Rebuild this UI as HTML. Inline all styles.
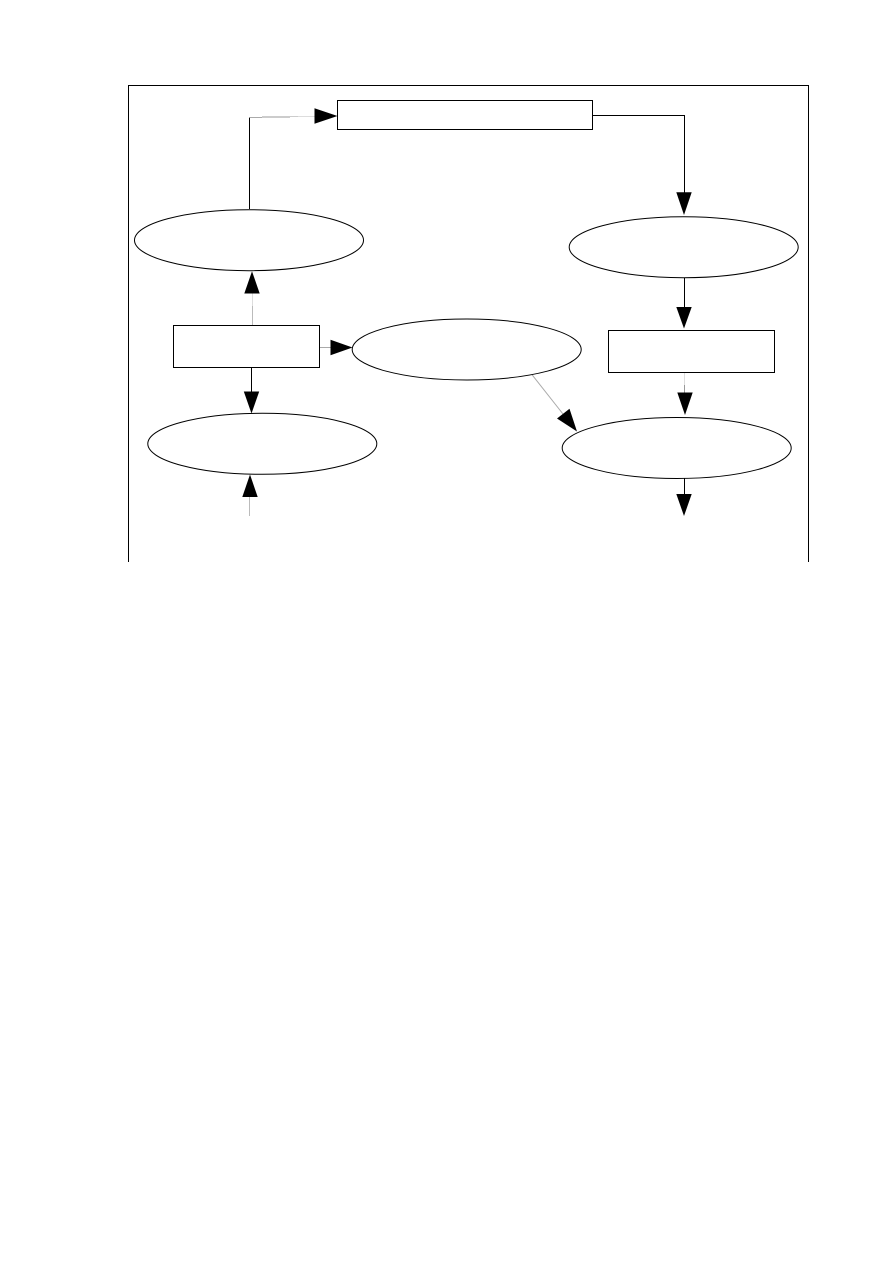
<!DOCTYPE html>
<html>
<head>
<meta charset="utf-8">
<title>Flow diagram</title>
<style>
html,body{margin:0;padding:0;background:#fff;width:893px;height:1263px;overflow:hidden}
svg{display:block}
</style>
</head>
<body>
<svg width="893" height="1263" viewBox="0 0 893 1263" xmlns="http://www.w3.org/2000/svg">
<rect width="893" height="1263" fill="#fff"/>
<!-- frame -->
<path d="M128.5 562V85.5H808.5V562" fill="none" stroke="#000" stroke-width="1"/>
<!-- connectors -->
<g fill="none" stroke="#000" stroke-width="1">
<path d="M249.5 209V117.5"/>
<path d="M592.5 115.5H684.5V193"/>
<path d="M684.5 278V308"/>
<path d="M251.5 367.5V392"/>
<path d="M684.5 478.5V494"/>
</g>
<g fill="none" stroke-width="1">
<path d="M249.5 117.5H262" stroke="#aaa"/>
<path d="M262 117H290" stroke="#999"/>
<path d="M290 116.5H298" stroke="#ccc"/>
<path d="M298 116.5H316" stroke="#ddd"/>
<path d="M252.5 325V306" stroke="#bbb"/>
<path d="M252.5 306V293" stroke="#ddd"/>
<path d="M319.5 347.5H331" stroke="#aaa"/>
<path d="M249.5 516V496" stroke="#bbb"/>
<path d="M684.5 372.5V385" stroke="#ddd"/>
<path d="M684.5 385V393" stroke="#999"/>
<path d="M531.7 374.3L563 414" stroke="#aaa"/>
</g>
<!-- arrowheads -->
<g fill="#000">
<polygon points="337.5,116 314.5,108.3 314.5,123.7"/>
<polygon points="684,215 676.3,192.3 691.7,192.3"/>
<polygon points="684,328.5 676.3,307 691.7,307"/>
<polygon points="252,271.2 244.3,293.5 259.7,293.5"/>
<polygon points="352.5,347.5 330.5,339.8 330.5,355.2"/>
<polygon points="251.5,413.5 243.8,391.5 259.2,391.5"/>
<polygon points="250,474.5 242.3,497 257.7,497"/>
<polygon points="685,415 677.3,392.5 692.7,392.5"/>
<polygon points="684,516 676.3,494 691.7,494"/>
<polygon points="577,431.5 557,418.5 569.5,408.8"/>
</g>
<!-- nodes -->
<g fill="#fff" stroke="#000" stroke-width="1">
<rect x="337.5" y="100.5" width="255" height="29"/>
<rect x="173.5" y="325.5" width="146" height="42"/>
<rect x="608.5" y="330.5" width="166" height="42"/>
<ellipse cx="249" cy="240.2" rx="114.5" ry="30.5"/>
<ellipse cx="683.7" cy="247.2" rx="114.5" ry="30.5"/>
<ellipse cx="466.7" cy="349.5" rx="114.5" ry="30.5"/>
<ellipse cx="262.3" cy="443.8" rx="114.5" ry="30.5"/>
<ellipse cx="676.7" cy="448" rx="114.5" ry="30.5"/>
</g>
</svg>
</body>
</html>
